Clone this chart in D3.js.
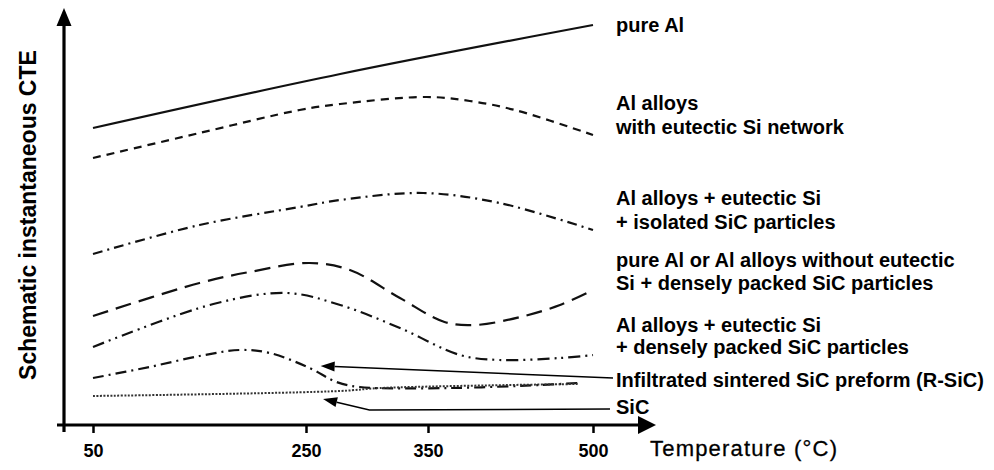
<!DOCTYPE html>
<html>
<head>
<meta charset="utf-8">
<script src="https://cdn.jsdelivr.net/npm/d3@7"></script>
<style>
  body { margin: 0; background: #fff; }
  svg { display: block; font-family: 'Liberation Sans', Arial, Helvetica, sans-serif; }
</style>
</head>
<body>
<svg id="chart" width="994" height="470"></svg>
<script>
// schematic CTE curves: temperature in °C, CTE in arbitrary units (0..100)
const tickTemps = [50, 250, 350, 500]

const pureAlT = [50, 278, 500]
const pureAlCte = [74, 87.5, 99.75]

const siNetworkT = [50, 150, 244, 278, 349, 388, 429, 500]
const siNetworkCte = [66.5, 72.75, 78.5, 80, 81.75, 80.75, 78.5, 72.25]

const isolatedSicT = [50, 150, 244, 278, 346, 415, 500]
const isolatedSicCte = [42.5, 49.75, 54.25, 56, 57.75, 55.25, 48.5]

const noSiDenseT = [50, 150, 197, 253, 286, 327, 365, 393, 434, 470, 500]
const noSiDenseCte = [27, 35.25, 38, 40.25, 38.5, 31.5, 25.5, 24.75, 26.75, 29.75, 33.5]

const siDenseT = [50, 163, 232, 278, 327, 379, 415, 470, 500]
const siDenseCte = [19.25, 30, 32.75, 29.75, 24, 17.25, 16, 16.5, 17.25]

const rSicT = [50, 103, 150, 188, 216, 253, 275, 294, 370, 452, 486]
const rSicCte = [11.5, 14.25, 17, 18.5, 17.75, 14, 10.5, 9.25, 9, 9.75, 10.25]

const sicT = [50, 278, 311, 486]
const sicCte = [7, 8.25, 9, 10]

const seriesLabels = [
  ['pure Al'],
  ['Al alloys', 'with eutectic Si network'],
  ['Al alloys + eutectic Si', '+ isolated SiC particles'],
  ['pure Al or Al alloys without eutectic', 'Si + densely packed SiC particles'],
  ['Al alloys + eutectic Si', '+ densely packed SiC particles'],
  ['Infiltrated sintered SiC preform (R-SiC)'],
  ['SiC']
]

// where the label arrows of the two lowest curves point (temperature, CTE)
const rSicArrowTip = [262, 14.5]
const sicArrowTip = [264, 6.25]
const sicArrowBend = [302, 3.5]

const series = [
  { t: pureAlT, v: pureAlCte, dash: null },
  { t: siNetworkT, v: siNetworkCte, dash: '8,6' },
  { t: isolatedSicT, v: isolatedSicCte, dash: '10,5,2,5' },
  { t: noSiDenseT, v: noSiDenseCte, dash: '16,8' },
  { t: siDenseT, v: siDenseCte, dash: '12,5,2,5,2,5' },
  { t: rSicT, v: rSicCte, dash: '11,5,2,5' },
  { t: sicT, v: sicCte, dash: '2,1.5', width: 2, color: '#333' }
]

// label centre lines (px), one entry per label line
const labelY = [[25], [103, 127], [198, 222], [260, 283], [325, 347], [380], [407]]
const labelX = 616
const fontSize = 20

const svg = d3.select('#chart')

const axisOrigin = { x: 64, y: 425 }

// schematic axis: the ticks are not evenly spaced in the source picture
const x = d3.scaleLinear()
  .domain(tickTemps)
  .range([93, 306, 428, 593])

const y = d3.scaleLinear()
  .domain([0, 100])
  .range([axisOrigin.y - 1, 24])

const line = d3.line()
  .x(d => x(d[0]))
  .y(d => y(d[1]))
  .curve(d3.curveCatmullRom.alpha(0.5))

svg.append('g')
  .selectAll('path')
  .data(series)
  .join('path')
  .attr('d', s => line(d3.zip(s.t, s.v)))
  .attr('fill', 'none')
  .attr('stroke', s => s.color || '#111')
  .attr('stroke-width', s => s.width || 2.2)
  .attr('stroke-dasharray', s => s.dash)

// axes
const xAxis = d3.axisBottom(x)
  .tickValues(tickTemps)
  .tickSize(8)
  .tickPadding(11)
  .tickFormat(d3.format('d'))

const xAxisGroup = svg.append('g')
  .attr('transform', `translate(0, ${axisOrigin.y})`)
  .call(xAxis)

xAxisGroup.select('.domain').remove()
xAxisGroup.selectAll('.tick line')
  .attr('stroke', '#000')
  .attr('stroke-width', 2.5)
xAxisGroup.selectAll('.tick text')
  .attr('fill', '#000')
  .style('font-size', '18px')
  .style('font-weight', 'bold')
  .style('font-family', "'Liberation Sans', Arial, sans-serif")

const axes = svg.append('g')
axes.append('line')
  .attr('x1', 57).attr('y1', axisOrigin.y)
  .attr('x2', 642).attr('y2', axisOrigin.y)
  .attr('stroke', '#000').attr('stroke-width', 3.2)
axes.append('line')
  .attr('x1', axisOrigin.x).attr('y1', axisOrigin.y + 7)
  .attr('x2', axisOrigin.x).attr('y2', 22)
  .attr('stroke', '#000').attr('stroke-width', 3.2)
axes.append('path')
  .attr('d', `M${axisOrigin.x},8 L${axisOrigin.x - 7.5},26 L${axisOrigin.x + 7.5},26 Z`)
  .attr('fill', '#000')
axes.append('path')
  .attr('d', `M656,${axisOrigin.y} L638,${axisOrigin.y - 9} L638,${axisOrigin.y + 9} Z`)
  .attr('fill', '#000')

svg.append('text')
  .attr('transform', 'translate(36, 215) rotate(-90)')
  .attr('text-anchor', 'middle')
  .style('font-size', '23px')
  .style('font-weight', 'bold')
  .text('Schematic instantaneous CTE')

svg.append('text')
  .attr('x', 650)
  .attr('y', 456)
  .style('font-size', '22px')
  .style('letter-spacing', '1.2px')
  .style('stroke', '#000')
  .style('stroke-width', 0.3)
  .text('Temperature (°C)')

// series labels
const labels = svg.append('g')
  .style('font-size', fontSize + 'px')
  .style('font-weight', 'bold')

seriesLabels.forEach((lines, i) => {
  lines.forEach((txt, j) => {
    labels.append('text')
      .attr('x', labelX)
      .attr('y', labelY[i][j] + 7)
      .text(txt)
  })
})

// label arrows for the R-SiC and SiC curves
function drawArrow (points) {
  const g = svg.append('g')
  const tip = points[points.length - 1]
  const prev = points[points.length - 2]
  const angle = Math.atan2(tip[1] - prev[1], tip[0] - prev[0])
  const headLen = 14
  const headHalf = 5
  const base = [tip[0] - headLen * Math.cos(angle), tip[1] - headLen * Math.sin(angle)]
  const shaft = points.slice(0, -1).concat([base])

  g.append('path')
    .attr('d', d3.line()(shaft))
    .attr('fill', 'none')
    .attr('stroke', '#000')
    .attr('stroke-width', 1.5)

  const nx = -Math.sin(angle) * headHalf
  const ny = Math.cos(angle) * headHalf
  g.append('path')
    .attr('d', `M${tip[0]},${tip[1]} L${base[0] + nx},${base[1] + ny} L${base[0] - nx},${base[1] - ny} Z`)
    .attr('fill', '#000')
}

drawArrow([
  [labelX - 3, labelY[5][0] - 2],
  [x(rSicArrowTip[0]), y(rSicArrowTip[1])]
])

drawArrow([
  [labelX - 6, labelY[6][0] + 2],
  [x(sicArrowBend[0]), y(sicArrowBend[1])],
  [x(sicArrowTip[0]), y(sicArrowTip[1])]
])
</script>
</body>
</html>
